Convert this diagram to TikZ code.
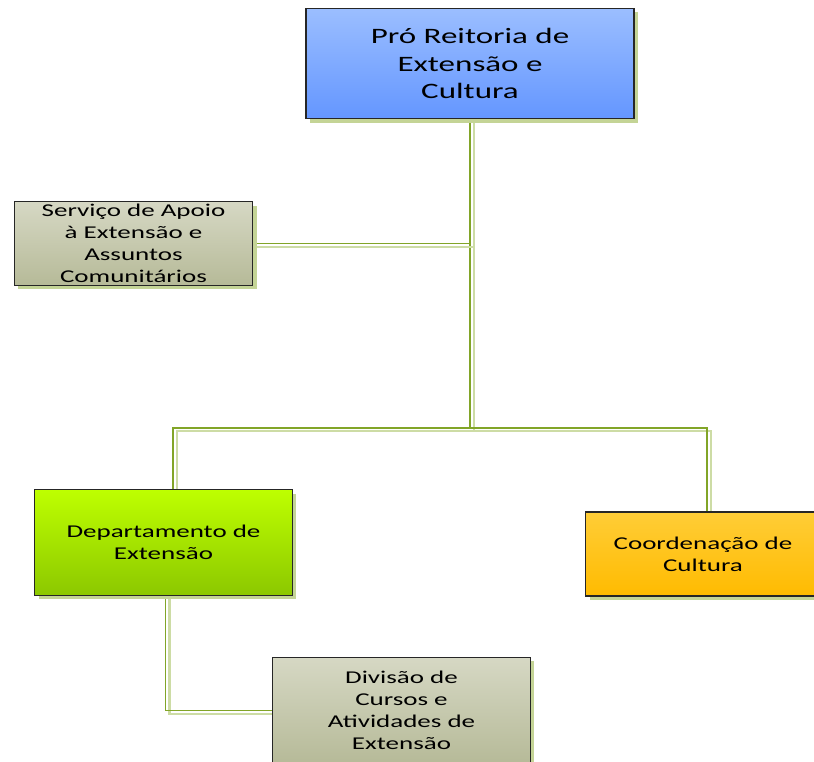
\documentclass[tikz,border=0pt]{standalone}
\usepackage{fontspec}
\setmainfont{Carlito}[FakeStretch=1.5]
\usetikzlibrary{shadows,backgrounds}
\definecolor{bluetop}{RGB}{155,190,255}
\definecolor{bluebot}{RGB}{100,150,255}
\definecolor{greentop}{RGB}{190,255,0}
\definecolor{greenbot}{RGB}{140,200,0}
\definecolor{orangetop}{RGB}{255,205,55}
\definecolor{orangebot}{RGB}{255,187,0}
\definecolor{greytop}{RGB}{214,216,196}
\definecolor{greybot}{RGB}{182,186,152}
\definecolor{boxshadow}{RGB}{196,212,150}
\definecolor{connmain}{RGB}{130,165,40}
\definecolor{connshadow}{RGB}{205,220,165}
\tikzset{
  orgbox/.style={rectangle, draw=black!85, line width=0.8pt, align=center,
    inner sep=2pt, text=black,
    drop shadow={shadow xshift=3pt, shadow yshift=-3pt, fill=boxshadow, opacity=1}},
  bluebox/.style={orgbox, top color=bluetop, bottom color=bluebot,
    font=\fontsize{16.5}{20.5}\selectfont},
  greenbox/.style={orgbox, top color=greentop, bottom color=greenbot,
    font=\fontsize{13.5}{16.5}\selectfont},
  orangebox/.style={orgbox, top color=orangetop, bottom color=orangebot,
    font=\fontsize{13.5}{16.5}\selectfont},
  greybox/.style={orgbox, top color=greytop, bottom color=greybot,
    font=\fontsize{13.5}{16.5}\selectfont},
  conn/.style={draw=connmain, line width=1.1pt,
    preaction={draw=connshadow, line width=1.6pt,
      transform canvas={xshift=3pt, yshift=-2.5pt}}}
}
\begin{document}
\begin{tikzpicture}[x=0.75pt,y=-0.75pt]
\useasboundingbox (0,0) rectangle (814,762);
\coordinate (bus) at (470,428);
\node[bluebox, minimum width=246pt, minimum height=83pt] (top) at (470,63.5)
  {Pró Reitoria de\\Extensão e\\Cultura};
\node[greybox, minimum width=179pt, minimum height=62pt] (serv) at (133.5,243.5)
  {Serviço de Apoio\\à Extensão e\\Assuntos\\Comunitários};
\node[greenbox, minimum width=193pt, minimum height=79pt] (dep) at (163.5,542.5)
  {Departamento de\\Extensão};
\node[orangebox, minimum width=176pt, minimum height=63pt] (coord) at (703,554)
  {Coordenação de\\Cultura};
\node[greybox, minimum width=193pt, minimum height=80pt] (div) at (401.5,710.5)
  {Divisão de\\Cursos e\\Atividades de\\Extensão};
\begin{scope}[on background layer]
\draw[conn] (top.south) -- (bus);
\draw[conn] (serv.east) -- (serv.east -| top.south);
\draw[conn] ([xshift=7pt]dep.north) |- (bus) -| ([xshift=3pt]coord.north);
\draw[conn] ([xshift=1.5pt]dep.south) |- (div.west);
\end{scope}
\end{tikzpicture}
\end{document}
